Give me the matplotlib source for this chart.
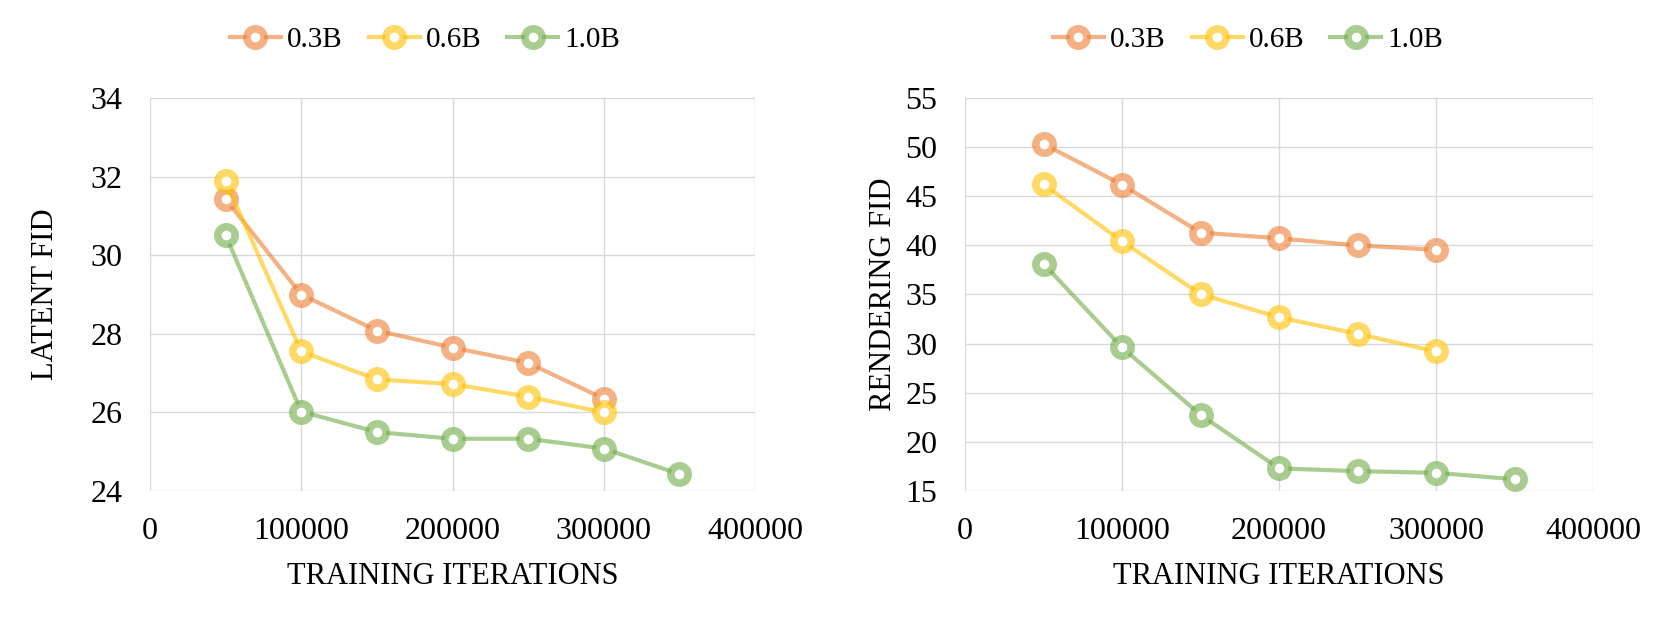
import matplotlib.pyplot as plt

plt.rcParams['font.family'] = ['Liberation Serif', 'DejaVu Serif']

iters = [50000, 100000, 150000, 200000, 250000, 300000, 350000]
models = ['0.3B', '0.6B', '1.0B']
# Excel-style colours drawn at 60% opacity
colors = [(0.929, 0.490, 0.192, 0.6), (1.0, 0.753, 0.0, 0.6), (0.439, 0.678, 0.278, 0.6)]

latent_03 = [31.43, 29.0, 28.08, 27.65, 27.26, 26.35]
latent_06 = [31.88, 27.55, 26.84, 26.72, 26.4, 26.0]
latent_10 = [30.51, 26.02, 25.5, 25.33, 25.33, 25.08, 24.43]

render_03 = [50.32, 46.18, 41.3, 40.72, 40.0, 39.55]
render_06 = [46.21, 40.42, 35.03, 32.68, 31.0, 29.2]
render_10 = [38.13, 29.61, 22.75, 17.3, 17.02, 16.85, 16.2]

x_ticks = [0, 100000, 200000, 300000, 400000]

W, H = 1661, 623


def draw(ax, series, ylabel, ylim, ystep, ylab_x, leg_x):
    for name, vals, c in zip(models, series, colors):
        ax.plot(iters[:len(vals)], vals, color=c, lw=3.0, marker='o', ms=12.5,
                mfc='white', mec=c, mew=5.5, label=name, zorder=3)
    ax.set_xlim(0, 400000)
    ax.set_ylim(*ylim)
    ax.set_xticks(x_ticks)
    ax.set_yticks(range(ylim[0], ylim[1] + 1, ystep))
    ax.grid(True, color='#d9d9d9', lw=1.0, zorder=0)
    for s in ax.spines.values():
        s.set_visible(False)
    ax.tick_params(length=0, labelsize=23)
    ax.tick_params(axis='y', pad=20)
    ax.tick_params(axis='x', pad=18.5)
    ax.set_xlabel('TRAINING ITERATIONS', fontsize=22)
    ax.set_ylabel(ylabel, fontsize=22)
    ax.xaxis.set_label_coords(0.5, -0.18)
    ax.yaxis.set_label_coords(ylab_x, 0.5)
    ax.legend(loc='center', bbox_to_anchor=(leg_x / W, 1 - 40 / H), bbox_transform=fig.transFigure,
              ncol=3, frameon=False, fontsize=21, handlelength=1.75,
              columnspacing=0.9, handletextpad=0.2, borderpad=0)


fig = plt.figure(figsize=(W / 100, H / 100), dpi=100)
ax1 = fig.add_axes([150 / W, 1 - 491 / H, (755 - 150) / W, (491 - 98) / H])
ax2 = fig.add_axes([965 / W, 1 - 491 / H, (1593 - 965) / W, (491 - 98) / H])

draw(ax1, [latent_03, latent_06, latent_10], 'LATENT FID', (24, 34), 2, -0.148, 425)
draw(ax2, [render_03, render_06, render_10], 'RENDERING FID', (15, 55), 5, -0.106, 1248)

fig.savefig('out.png', dpi=100)
